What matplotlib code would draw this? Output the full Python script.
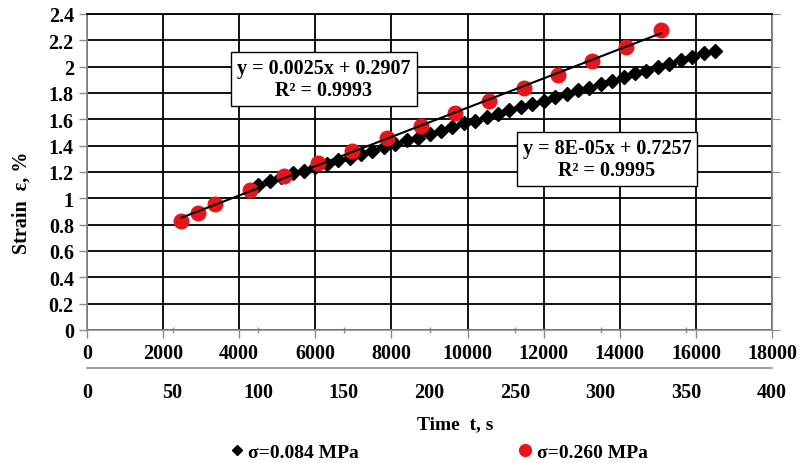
import numpy as np
import matplotlib
matplotlib.use("Agg")
import matplotlib.pyplot as plt
from matplotlib.lines import Line2D

plt.rcParams["font.family"] = ["Liberation Serif", "DejaVu Serif"]
plt.rcParams["font.weight"] = "bold"

# sigma = 0.084 MPa, plotted against the upper time scale (0-18000)
t_084 = [4500, 4800, 5100, 5400, 5700, 6000, 6300, 6600, 6900, 7200,
         7500, 7800, 8100, 8400, 8700, 9000, 9300, 9600, 9900, 10200,
         10500, 10800, 11100, 11400, 11700, 12000, 12300, 12600, 12900, 13200,
         13500, 13800, 14100, 14400, 14700, 15000, 15300, 15600, 15900, 16200,
         16500]
eps_084 = [1.10, 1.13, 1.16, 1.19, 1.21, 1.24, 1.26, 1.29, 1.31, 1.34,
           1.36, 1.39, 1.41, 1.44, 1.46, 1.49, 1.51, 1.54, 1.57, 1.59,
           1.62, 1.64, 1.67, 1.69, 1.72, 1.74, 1.77, 1.79, 1.82, 1.84,
           1.87, 1.89, 1.92, 1.95, 1.97, 2.00, 2.02, 2.05, 2.07, 2.10,
           2.12]

# sigma = 0.260 MPa, plotted against the lower time scale (0-400)
t_260 = [55, 65, 75, 95, 115, 135, 155, 175, 195, 215, 235, 255, 275, 295, 315, 335]
eps_260 = [0.83, 0.89, 0.96, 1.06, 1.17, 1.27, 1.36, 1.46, 1.55, 1.65,
           1.74, 1.84, 1.94, 2.04, 2.15, 2.28]

xticks_main = [0, 2000, 4000, 6000, 8000, 10000, 12000, 14000, 16000, 18000]
xticks_sec = [0, 50, 100, 150, 200, 250, 300, 350, 400]
yticks = [0, 0.2, 0.4, 0.6, 0.8, 1, 1.2, 1.4, 1.6, 1.8, 2, 2.2, 2.4]
ytick_labels = ["0", "0.2", "0.4", "0.6", "0.8", "1", "1.2", "1.4", "1.6", "1.8", "2", "2.2", "2.4"]

fit_084 = "y = 8E-05x + 0.7257\nR² = 0.9995"
fit_260 = "y = 0.0025x + 0.2907\nR² = 0.9993"

W, H = 799, 464
fig = plt.figure(figsize=(W / 100, H / 100), dpi=100)
ax = fig.add_axes([87 / W, 1 - 331 / H, 685 / W, 316 / H])

fs = 14.5
gray = "#8c8c8c"

# grid
ax.set_xlim(0, 18000)
ax.set_ylim(0, 2.4)
ax.set_xticks(xticks_main)
ax.set_xticklabels([str(v) for v in xticks_main], fontsize=fs, fontweight="bold")
ax.set_yticks(yticks)
ax.set_yticklabels(ytick_labels, fontsize=fs, fontweight="bold")
ax.set_xticks(np.array(xticks_sec) * 18000 / 400, minor=True)
ax.grid(True, which="major", color="black", linewidth=1.3)
ax.set_axisbelow(True)
ax.tick_params(axis="both", which="major", length=6, color=gray, width=1, pad=3.5)
ax.tick_params(axis="x", which="minor", length=4, color=gray, width=1, direction="inout")
for side in ["left", "bottom", "right"]:
    ax.spines[side].set_color(gray)
    ax.spines[side].set_linewidth(1.2)
ax.spines["top"].set_color("black")
ax.spines["top"].set_linewidth(1.3)

sec_y = ax.secondary_yaxis("right")
sec_y.set_yticks([0, 0.4, 0.8, 1.2, 1.6, 2.0, 2.4])
sec_y.set_yticklabels([])
sec_y.tick_params(length=6, color=gray)
sec_y.spines["right"].set_color(gray)

# black diamonds + trendline
ax.plot(t_084, eps_084, linestyle="none", marker="D", ms=7, color="black", zorder=3)
p1 = np.polyfit(t_084, eps_084, 1)
ax.plot([t_084[0], t_084[-1]], np.polyval(p1, [t_084[0], t_084[-1]]),
        color="black", lw=1.5, zorder=4)

# lower time axis for the red series
ax2 = ax.twiny()
ax2.set_xlim(0, 400)
ax2.set_ylim(0, 2.4)
ax2.xaxis.set_ticks_position("bottom")
ax2.xaxis.set_label_position("bottom")
ax2.spines["bottom"].set_position(("outward", 27.5))
ax2.spines["bottom"].set_color(gray)
ax2.spines["bottom"].set_linewidth(1.2)
for side in ["top", "left", "right"]:
    ax2.spines[side].set_visible(False)
ax2.set_xticks(xticks_sec)
ax2.set_xticklabels([str(v) for v in xticks_sec], fontsize=fs, fontweight="bold")
ax2.tick_params(axis="x", length=0, pad=10)

ax2.plot(t_260, eps_260, linestyle="none", marker="o", ms=10.5, color="#e8141b", zorder=3)
p2 = np.polyfit(t_260, eps_260, 1)
ax2.plot([t_260[0], t_260[-1]], np.polyval(p2, [t_260[0], t_260[-1]]),
         color="black", lw=1.5, zorder=4)

# trendline equations
box = dict(boxstyle="square,pad=0.3", facecolor="white", edgecolor="black", linewidth=1)
fig.text(324 / W, 1 - 80 / H, fit_260, ha="center", va="center", fontsize=fs,
         fontweight="bold", linespacing=1.1, bbox=box, zorder=10)
fig.text(607 / W, 1 - 160 / H, fit_084, ha="center", va="center", fontsize=fs,
         fontweight="bold", linespacing=1.1, bbox=box, zorder=10)

# axis titles
fig.text(22 / W, 1 - 203 / H, "Strain  ε, %", rotation=90, ha="center", va="center",
         fontsize=14.5, fontweight="bold")
fig.text(455 / W, 1 - 425 / H, "Time  t, s", ha="center", va="center",
         fontsize=14, fontweight="bold")

# legend
h1 = Line2D([], [], linestyle="none", marker="D", ms=5, color="black")
h2 = Line2D([], [], linestyle="none", marker="o", ms=8.5, color="#e8141b")
fig.legend([h1, h2], ["σ=0.084 MPa", "σ=0.260 MPa"], loc="center",
           bbox_to_anchor=(439 / W, 1 - 453 / H), ncol=2, frameon=False,
           prop={"size": 14, "weight": "bold"}, handlelength=0.7,
           handletextpad=0.25, columnspacing=8.2)

fig.savefig("out.png", dpi=100)
